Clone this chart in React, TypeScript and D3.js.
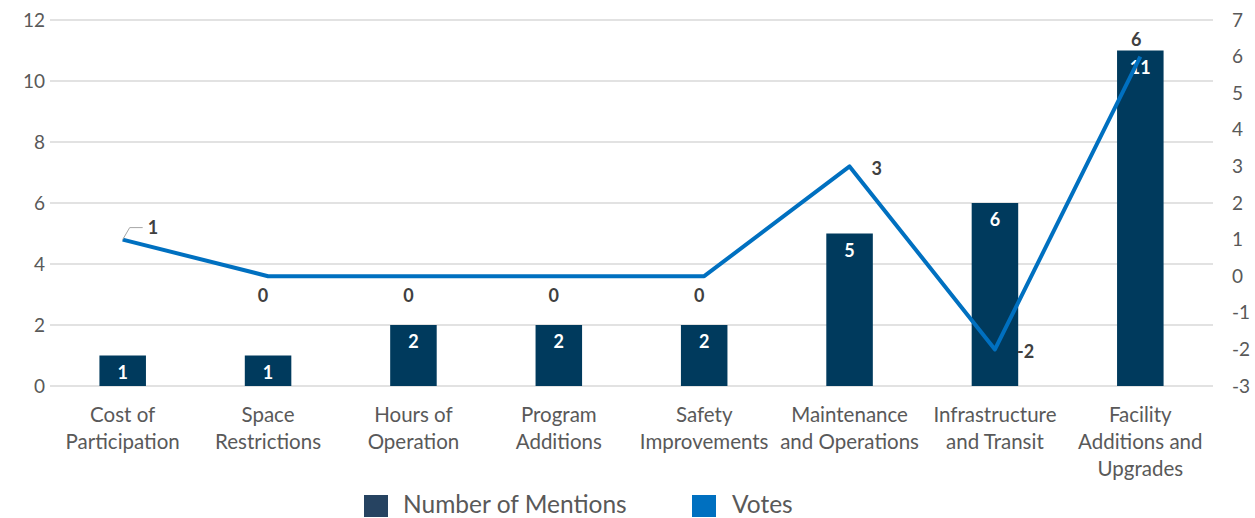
import * as d3 from 'd3';

const categories = [
  ['Cost of', 'Participation'],
  ['Space', 'Restrictions'],
  ['Hours of', 'Operation'],
  ['Program', 'Additions'],
  ['Safety', 'Improvements'],
  ['Maintenance', 'and Operations'],
  ['Infrastructure', 'and Transit'],
  ['Facility', 'Additions and', 'Upgrades'],
];
const mentions = [1, 1, 2, 2, 2, 5, 6, 11];
const votes = [1, 0, 0, 0, 0, 3, -2, 6];
const leftTicks = [0, 2, 4, 6, 8, 10, 12];
const rightTicks = [-3, -2, -1, 0, 1, 2, 3, 4, 5, 6, 7];
// where each vote label sits relative to its point
const votePos = ['leader', 'below', 'below', 'below', 'below', 'right', 'right', 'above'];

const W = 1255;
const H = 518;
const margin = { top: 20, right: 42, bottom: 132, left: 50 };
const font = 'Lato, "Source Sans Pro", sans-serif';

export default function App() {
  const keys = categories.map((_, i) => String(i));
  const x = d3.scaleBand().domain(keys).range([margin.left, W - margin.right]).paddingInner(0.68).paddingOuter(0.34);
  const xc = (i: number) => (x(String(i)) as number) + x.bandwidth() / 2;
  const yL = d3.scaleLinear().domain([0, 12]).range([H - margin.bottom, margin.top]);
  const yR = d3.scaleLinear().domain([-3, 7]).range([H - margin.bottom, margin.top]);
  const line = d3.line<number>().x((_, i) => xc(i)).y(d => yR(d));

  return (
    <svg width={W} height={H} style={{ position: 'absolute', left: 0, top: 0, fontFamily: font }}>
      {leftTicks.map(t => (
        <g key={'l' + t}>
          <line x1={margin.left} x2={W - margin.right} y1={yL(t)} y2={yL(t)} stroke="#d9d9d9" strokeWidth={1.3} />
          <text x={45} y={yL(t)} dy="0.35em" textAnchor="end" fontSize={19} fill="#595959">{t}</text>
        </g>
      ))}
      {rightTicks.map(t => (
        <text key={'r' + t} x={1232} y={yR(t)} dy="0.35em" fontSize={19} fill="#595959">{t}</text>
      ))}
      {mentions.map((m, i) => (
        <g key={'b' + i}>
          <rect x={x(String(i))} y={yL(m)} width={x.bandwidth()} height={yL(0) - yL(m)} fill="#003a5d" />
          <text x={xc(i)} y={yL(m) + 17} dy="0.35em" textAnchor="middle" fontSize={18} fontWeight={700} fill="#ffffff">{m}</text>
        </g>
      ))}
      <path d={line(votes) as string} fill="none" stroke="#0070c0" strokeWidth={4} strokeLinejoin="round" />
      {votes.map((v, i) => {
        const px = xc(i);
        const py = yR(v);
        const pos = votePos[i];
        let tx = px, ty = py, anchor = 'middle';
        if (pos === 'below') { tx = px - 5; ty = py + 19; }
        if (pos === 'above') { tx = px - 4; ty = py - 17; }
        if (pos === 'right') { tx = px + 22; ty = py + 2; anchor = 'start'; }
        if (pos === 'leader') { tx = px + 25; ty = py - 12; anchor = 'start'; }
        return (
          <g key={'v' + i}>
            {pos === 'leader' && (
              <polyline points={`${px},${py} ${px + 7},${py - 12} ${px + 20},${py - 12}`} fill="none" stroke="#a6a6a6" strokeWidth={1} />
            )}
            <text x={tx} y={ty} dy="0.35em" textAnchor={anchor} fontSize={18} fontWeight={700} fill="#404040">{v}</text>
          </g>
        );
      })}
      {categories.map((c, i) => (
        <text key={'c' + i} x={xc(i)} y={416} textAnchor="middle" fontSize={20.5} fill="#595959">
          {c.map((ln, j) => (
            <tspan key={j} x={xc(i)} y={422 + j * 27}>{ln}</tspan>
          ))}
        </text>
      ))}
      <rect x={364} y={495} width={24} height={22} fill="#264361" />
      <text x={403} y={504} dy="0.35em" fontSize={24.5} fill="#595959">Number of Mentions</text>
      <rect x={692} y={495} width={24} height={22} fill="#0070c0" />
      <text x={732} y={504} dy="0.35em" fontSize={24.5} fill="#595959">Votes</text>
    </svg>
  );
}
